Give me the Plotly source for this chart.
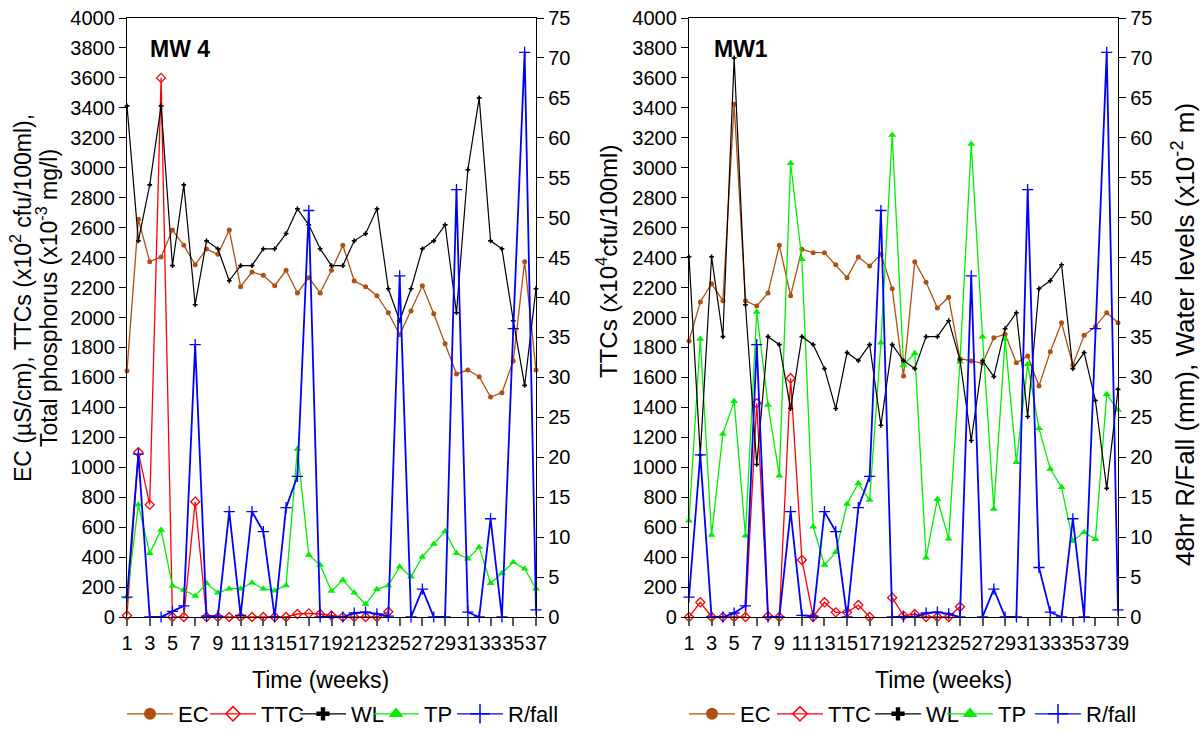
import plotly.graph_objects as go

# ---------------- data ----------------
weeks_mw4 = list(range(1, 38))
weeks_mw1 = list(range(1, 40))

# MW 4 (left panel) - EC, TTC, TP on left axis; WL, R/fall on right axis
ec_mw4 = [1645, 2656, 2373, 2404, 2584, 2482, 2353, 2457, 2422, 2584, 2206, 2304, 2282, 2212, 2315,
          2164, 2266, 2164, 2315, 2482, 2244, 2206, 2146, 2032, 1885, 2044, 2212, 2025, 1825, 1623,
          1649, 1605, 1469, 1498, 1710, 2373, 1649]
ttc_mw4 = [10, 1100, 750, 3600, 0, 0, 770, 0, 0, 0, 0, 0, 0, 0, 0, 20, 24, 20, 10, 0, 0, 0, 0, 35,
           None, None, None, None, None, None, None, None, None, None, None, None, None]
wl_mw4 = [64.0, 47.1, 54.1, 64.0, 44.0, 54.1, 39.1, 47.1, 46.1, 42.1, 44.0, 44.0, 46.1, 46.1, 48.0,
          51.1, 49.1, 46.1, 44.0, 44.0, 47.1, 48.0, 51.1, 41.1, 37.1, 41.1, 46.1, 47.1, 49.1, 38.1,
          56.0, 65.0, 47.1, 46.1, 37.1, 29.0, 41.1]
tp_mw4 = [136, 750, 425, 581, 209, 180, 140, 225, 162, 189, 189, 229, 189, 176, 211, 1122, 414, 347,
          174, 247, 162, 85, 185, 211, 336, 269, 403, 487, 572, 425, 389, 465, 225, 292, 365, 323, 189]
rf_mw4 = [2.5, 20.4, 0, 0, 0.7, 1.4, 34.1, 0.1, 0.1, 13.2, 0.2, 13.2, 10.7, 0, 13.7, 17.6, 50.9, 0,
          0, 0, 0.5, 0.6, 0.4, 0.1, 42.7, 0, 3.5, 0, 0, 53.5, 0.6, 0, 12.3, 0, 36.1, 70.7, 0.9]

# MW1 (right panel)
ec_mw1 = [1843, 2104, 2226, 2112, 3424, 2112, 2077, 2164, 2482, 2146, 2455, 2433, 2433, 2353, 2266,
          2404, 2344, 2422, 2192, 1609, 2373, 2235, 2063, 2135, 1727, 1710, 1694, 1865, 1888, 1698,
          1743, 1543, 1772, 1965, 1683, 1881, 1939, 2032, 1965]
ttc_mw1 = [0, 98, 0, 0, 0, 0, 1427, 5, 0, 1594, 381, 0, 98, 31, 31, 80, 0, None, 129, 9, 20, 0, 0, 0,
           69, None, None, None, None, None, None, None, None, None, None, None, None, None, None]
wl_mw1 = [45.1, 20.3, 45.1, 35.1, 70.0, 39.1, 19.1, 35.1, 34.1, 26.1, 35.1, 34.1, 31.1, 26.1, 33.1,
          32.1, 34.1, 24.0, 34.1, 32.1, 31.1, 35.1, 35.1, 37.1, 32.2, 22.1, 32.1, 30.1, 36.1, 38.1,
          25.1, 41.1, 42.1, 44.1, 31.1, 33.1, 27.1, 16.1, 28.5]
tp_mw1 = [643, 1856, 548, 1222, 1440, 543, 2037, 1416, 944, 3030, 2389, 603, 347, 432, 755, 893, 781,
          1832, 3219, 1683, 1761, 396, 786, 523, 1705, 3159, 1872, 721, 1854, 1033, 1688, 1260, 988,
          866, 508, 566, 519, 1487, 1382]
rf_mw1 = [2.5, 20.3, 0, 0, 0.5, 1.4, 34.1, 0, 0, 13.2, 0.2, 0.1, 13.2, 10.7, 0, 13.7, 17.6, 50.9, 0,
          0, 0, 0.5, 0.6, 0.4, 0, 42.7, 0, 3.5, 0, 0, 53.5, 6.2, 0.6, 0, 12.3, 0, 36.1, 70.7, 0.9]

series_names = ["EC", "TTC", "WL", "TP", "R/fall"]

# ---------------- styling ----------------
FONT = "Liberation Sans, Arial, sans-serif"
C_EC, C_TTC, C_WL, C_TP, C_RF = "#B4500F", "#FF0000", "#000000", "#00F000", "#0000FF"

W, H = 1200, 732
def px_x(v):
    return v / W
def px_y(v):
    return (H - v) / H

ydom = [px_y(617), px_y(18)]
xdom1 = [px_x(127), px_x(536)]
xdom2 = [px_x(689), px_x(1118)]

styles = {
    "EC": dict(color=C_EC, lw=1.3, sym="circle", size=5, lsize=12, mlw=0),
    "TTC": dict(color=C_TTC, lw=1.3, sym="diamond-open", size=7, lsize=11, mlw=1.3),
    "WL": dict(color=C_WL, lw=1.2, sym="cross", size=4, lsize=11, mlw=0),
    "TP": dict(color=C_TP, lw=1.3, sym="triangle-up", size=7, lsize=13, mlw=0),
    "R/fall": dict(color=C_RF, lw=1.8, sym="cross-thin", size=8, lsize=14, mlw=1.3),
}
legend_widths = {"legend": [22, 29, 12, 23, 60], "legend2": [27, 37, 11, 27, 60]}

fig = go.Figure()

def add_panel(weeks, data, xa, ya_left, ya_right, legend_name):
    for name in series_names:
        s = styles[name]
        on_right = name in ("WL", "R/fall")
        fig.add_trace(go.Scatter(
            x=weeks, y=data[name], mode="lines+markers", name=name,
            xaxis=xa, yaxis=ya_right if on_right else ya_left,
            line=dict(color=s["color"], width=s["lw"]),
            marker=dict(symbol=s["sym"], size=s["size"], color=s["color"],
                        line=dict(color=s["color"], width=s["mlw"])),
            cliponaxis=False, connectgaps=False, showlegend=False, hoverinfo="skip"))
    # legend entries
    for name, lw in zip(series_names, legend_widths[legend_name]):
        s = styles[name]
        fig.add_trace(go.Scatter(
            x=[None], y=[None], mode="lines+markers", name=name,
            xaxis=xa, yaxis=ya_left, legend=legend_name, legendwidth=lw,
            line=dict(color=s["color"], width=1.3),
            marker=dict(symbol=s["sym"], size=s["lsize"], color=s["color"],
                        line=dict(color=s["color"], width=1.5 if s["mlw"] else 0)),
            showlegend=True))

add_panel(weeks_mw4, {"EC": ec_mw4, "TTC": ttc_mw4, "WL": wl_mw4, "TP": tp_mw4, "R/fall": rf_mw4},
          "x", "y", "y2", "legend")
add_panel(weeks_mw1, {"EC": ec_mw1, "TTC": ttc_mw1, "WL": wl_mw1, "TP": tp_mw1, "R/fall": rf_mw1},
          "x2", "y3", "y4", "legend2")

tickfont = dict(family=FONT, size=20, color="#000")
xcommon = dict(showline=True, linecolor="#000", linewidth=1.3, mirror=True, ticks="outside",
               ticklen=8, tickwidth=1.5, tickcolor="#555", showgrid=False, zeroline=False,
               tickfont=tickfont, tickmode="array", tickangle=0)
yleft = dict(range=[0, 4000], tickvals=list(range(0, 4001, 200)), showline=True, linecolor="#000",
             linewidth=1.3, ticks="outside", ticklen=7, tickcolor="#000", showgrid=False,
             zeroline=False, tickfont=tickfont, domain=ydom)
yright = dict(range=[0, 75], tickvals=list(range(0, 76, 5)), showline=True, linecolor="#000",
              linewidth=1.3, ticks="outside", ticklen=7, tickcolor="#000", showgrid=False,
              zeroline=False, tickfont=tickfont, side="right")

legend_common = dict(orientation="h", xanchor="left", yanchor="middle", y=px_y(714),
                     font=dict(family=FONT, size=22), bgcolor="rgba(0,0,0,0)", itemwidth=46,
                     tracegroupgap=0, entrywidthmode="pixels")

fig.update_layout(
    width=W, height=H, autosize=False, margin=dict(l=0, r=0, t=0, b=0, autoexpand=False),
    paper_bgcolor="white", plot_bgcolor="white",
    font=dict(family=FONT, color="#000"),
    xaxis=dict(domain=xdom1, range=[1, 37], tickvals=list(range(1, 38, 2)), anchor="y", **xcommon),
    yaxis=dict(anchor="x", **yleft),
    yaxis2=dict(anchor="x", overlaying="y", **yright),
    xaxis2=dict(domain=xdom2, range=[1, 39], tickvals=list(range(1, 40, 2)), anchor="y3", **xcommon),
    yaxis3=dict(anchor="x2", **yleft),
    yaxis4=dict(anchor="x2", overlaying="y3", **yright),
    legend=dict(x=px_x(122), **legend_common),
    legend2=dict(x=px_x(684), **legend_common),
)

annots = [
    dict(text="<b>MW 4</b>", x=px_x(148), y=px_y(49), xanchor="left", yanchor="middle", font=dict(size=23)),
    dict(text="<b>MW1</b>", x=px_x(712), y=px_y(49), xanchor="left", yanchor="middle", font=dict(size=23)),
    dict(text="Time (weeks)", x=px_x(320), y=px_y(680), xanchor="center", yanchor="middle", font=dict(size=23)),
    dict(text="Time (weeks)", x=px_x(943), y=px_y(680), xanchor="center", yanchor="middle", font=dict(size=23)),
    dict(text="EC (µS/cm), TTCs (x10<sup>2</sup> cfu/100ml),", x=px_x(21), y=px_y(298), textangle=-90,
         xanchor="center", yanchor="middle", font=dict(size=23)),
    dict(text="Total phosphorus (x10<sup>-3</sup> mg/l)", x=px_x(47), y=px_y(298), textangle=-90,
         xanchor="center", yanchor="middle", font=dict(size=23)),
    dict(text="TTCs (x10<sup>4</sup>cfu/100ml)", x=px_x(607), y=px_y(262), textangle=-90,
         xanchor="center", yanchor="middle", font=dict(size=24)),
    dict(text="48hr R/Fall (mm), Water levels (x10<sup>-2</sup> m)", x=px_x(1183), y=px_y(335),
         textangle=-90, xanchor="center", yanchor="middle", font=dict(size=26)),
]
for a in annots:
    a.update(xref="paper", yref="paper", showarrow=False)
    a["font"].update(family=FONT, color="#000")
fig.update_layout(annotations=annots)

fig.write_html(
    "out.html",
    post_script="document.documentElement.style.margin='0';document.body.style.margin='0';"
                "document.body.style.padding='0';"
                "var gd=document.getElementById('{plot_id}');"
                "Plotly.relayout(gd,{width:1200,height:732});",
)
